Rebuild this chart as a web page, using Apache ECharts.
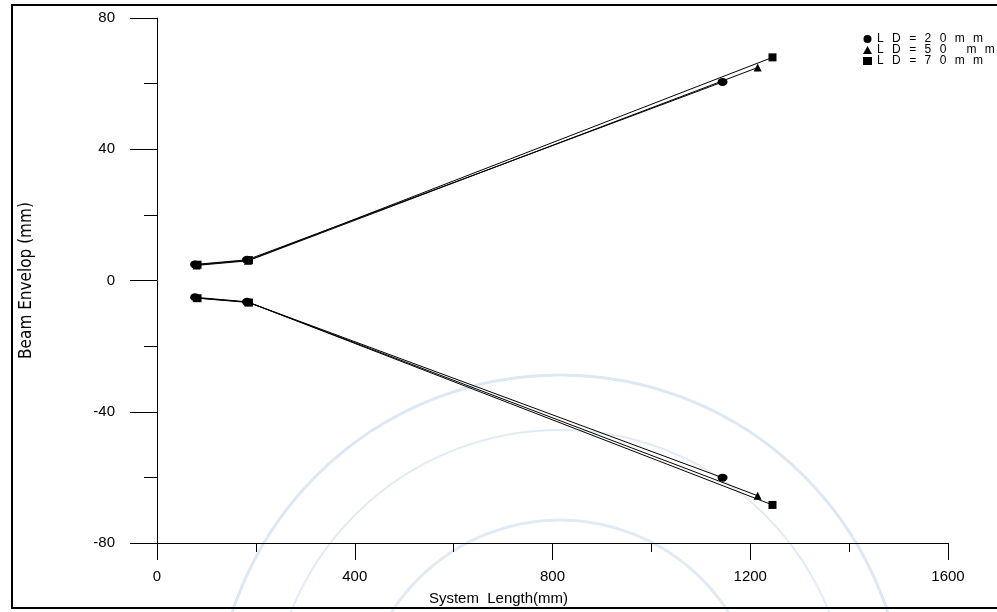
<!DOCTYPE html>
<html>
<head>
<meta charset="utf-8">
<script src="https://cdn.jsdelivr.net/npm/echarts@6/dist/echarts.min.js"></script>
<style>html,body{margin:0;padding:0;background:#fff}#c{width:997px;height:612px}</style>
</head>
<body>
<div id="c"></div>
<script>
var seriesNames = ['LD=20mm', 'LD=50 mm', 'LD=70mm'];
var symbols = ['circle', 'triangle', 'rect'];
var xLength20 = [77, 182, 1144];
var xLength50 = [80, 184, 1215];
var xLength70 = [82, 186, 1245];
var upper20 = [4.9, 6.3, 60.5];
var upper50 = [4.6, 6.0, 64.9];
var upper70 = [4.8, 6.2, 68.0];
var lower20 = [-5.1, -6.5, -60.1];
var lower50 = [-5.3, -6.6, -65.6];
var lower70 = [-5.4, -6.7, -68.4];
var xTicks = [0, 400, 800, 1200, 1600];
var yTicks = [-80, -40, 0, 40, 80];

function pairs(xs, ys) { return xs.map(function (x, i) { return [x, ys[i]]; }); }
var xs = [xLength20, xLength50, xLength70];
var ups = [upper20, upper50, upper70];
var lows = [lower20, lower50, lower70];
var series = [];
for (var i = 0; i < 3; i++) {
  [ups[i], lows[i]].forEach(function (ys) {
    series.push({
      name: seriesNames[i], type: 'line', data: pairs(xs[i], ys),
      symbol: symbols[i], symbolSize: symbols[i] === 'circle' ? [10, 8] : 8,
      lineStyle: { color: '#000', width: 1 }, itemStyle: { color: '#000' },
      animation: false
    });
  });
}
var chart = echarts.init(document.getElementById('c'));
chart.setOption({
  animation: false,
  graphic: [
    { type: 'circle', shape: { cx: 560, cy: 720, r: 345 }, style: { fill: 'none', stroke: '#dce8f4', lineWidth: 3 }, z: -10 },
    { type: 'circle', shape: { cx: 560, cy: 720, r: 290 }, style: { fill: 'none', stroke: '#e0ebf6', lineWidth: 2 }, z: -10 },
    { type: 'circle', shape: { cx: 560, cy: 720, r: 200 }, style: { fill: 'none', stroke: '#e0ebf6', lineWidth: 3 }, z: -10 },
    { type: 'rect', shape: { x: 12, y: 5, width: 1000, height: 603 }, style: { fill: 'none', stroke: '#000', lineWidth: 2 }, z: 100 }
  ],
  grid: { left: 157, right: 49, top: 18, bottom: 69, containLabel: false },
  legend: {
    orient: 'vertical', left: 858, top: 28, itemGap: -1, itemWidth: 9, itemHeight: 8,
    data: seriesNames.map(function (n, i) { return { name: n, icon: symbols[i] }; }),
    formatter: function (n) { return n.split('').join('\u2002\u2009'); },
    textStyle: { fontFamily: 'Liberation Sans', fontSize: 12, color: '#000' },
    itemStyle: { color: '#000' }
  },
  xAxis: {
    type: 'value', min: 0, max: 1600, interval: 400,
    name: 'System  Length(mm)', nameLocation: 'middle', nameGap: 48,
    nameTextStyle: { fontFamily: 'Liberation Sans', fontSize: 15, color: '#000', padding: [0, 108, 0, 0] },
    axisLine: { show: true, onZero: false, lineStyle: { color: '#000', width: 1 } },
    axisTick: { show: true, inside: false, length: 17, lineStyle: { color: '#000' } },
    minorTick: { show: true, splitNumber: 2, length: 9, lineStyle: { color: '#000' } },
    axisLabel: { margin: 26, fontFamily: 'Liberation Sans', fontSize: 15, color: '#000',
      formatter: function (v) { return xTicks.indexOf(v) >= 0 ? String(v) : ''; } },
    splitLine: { show: false }
  },
  yAxis: {
    type: 'value', min: -80, max: 80, interval: 40,
    name: 'Beam Envelop (mm)', nameLocation: 'middle', nameGap: 122, nameRotate: 90,
    nameTextStyle: { fontFamily: "'DejaVu Sans Condensed', 'Liberation Sans', sans-serif", fontSize: 17, color: '#000' },
    axisLine: { show: true, onZero: false, lineStyle: { color: '#000', width: 1 } },
    axisTick: { show: true, inside: false, length: 27, lineStyle: { color: '#000' } },
    minorTick: { show: true, splitNumber: 2, length: 13, lineStyle: { color: '#000' } },
    axisLabel: { margin: 42, fontFamily: 'Liberation Sans', fontSize: 15, color: '#000',
      formatter: function (v) { return yTicks.indexOf(v) >= 0 ? String(v) : ''; } },
    splitLine: { show: false }
  },
  series: series
});
</script>
</body>
</html>
